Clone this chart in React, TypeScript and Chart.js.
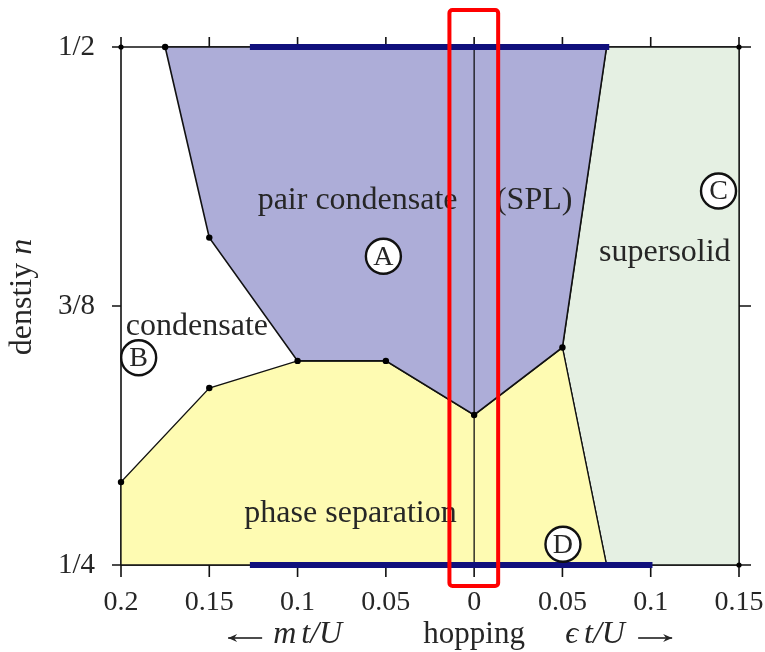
import React, { useEffect, useRef } from 'react';
import { Chart, registerables } from 'chart.js';

Chart.register(...registerables);

// ---- axes ----
const xMin = -0.2;
const xMax = 0.15;
const yMin = 0.25;
const yMax = 0.5;
const xTicks = [-0.2, -0.15, -0.1, -0.05, 0, 0.05, 0.1, 0.15];
const xTickLabels = ['0.2', '0.15', '0.1', '0.05', '0', '0.05', '0.1', '0.15'];
const yTicks = [0.25, 0.375, 0.5];
const yTickLabels = ['1/4', '3/8', '1/2'];

// ---- phase regions ----
// pair condensate (A): upper boundary region
const pairX = [-0.175, -0.15, -0.1, -0.05, 0, 0.05, 0.075, -0.175];
const pairY = [0.5, 0.408, 0.3485, 0.3485, 0.3224, 0.355, 0.5, 0.5];
// phase separation (lower region)
const sepX = [-0.2, -0.2, -0.15, -0.1, -0.05, 0, 0.05, 0.075, -0.2];
const sepY = [0.25, 0.29, 0.3354, 0.3485, 0.3485, 0.3224, 0.355, 0.25, 0.25];
// supersolid (C)
const solidX = [0.05, 0.075, 0.15, 0.15, 0.075, 0.05];
const solidY = [0.355, 0.5, 0.5, 0.25, 0.25, 0.355];
// computed points
const dotX = [-0.175, -0.15, -0.1, -0.05, 0, 0.05, -0.15, -0.2];
const dotY = [0.5, 0.408, 0.3485, 0.3485, 0.3224, 0.355, 0.3354, 0.29];
const cornerX = [-0.2, 0.15, 0.15];
const cornerY = [0.5, 0.5, 0.25];
// thick blue segments on the n = 1/2 and n = 1/4 lines
const blueTopX = [-0.127, 0.0765];
const blueTopY = [0.5, 0.5];
const blueBotX = [-0.127, 0.101];
const blueBotY = [0.25, 0.25];
// zero-hopping line
const zeroX = [0, 0];
const zeroY = [0.25, 0.5];

// ---- annotations ----
const regionTexts = ['pair condensate', '(SPL)', 'supersolid', 'condensate', 'phase separation'];
const regionTextX = [-0.066, 0.034, 0.108, -0.157, -0.07];
const regionTextY = [0.426, 0.426, 0.4006, 0.365, 0.275];
const circleLetters = ['A', 'B', 'C', 'D'];
const circleX = [-0.0514, -0.19, 0.1384, 0.0503];
const circleY = [0.399, 0.35, 0.4305, 0.26];
// highlight box around zero hopping
const boxX = [-0.014, 0.0136];
const boxY = [0.2399, 0.5179];

const pts = (xs: number[], ys: number[]) => xs.map((x, i) => ({ x, y: ys[i] }));

const SERIF = '"Liberation Serif", "DejaVu Serif", serif';
const TEXT = '#262626';

const framePlugin = {
  id: 'frame',
  beforeDatasetsDraw(chart: any) {
    const { ctx, scales } = chart;
    const x = scales.x;
    const y = scales.y;
    const L = x.getPixelForValue(xMin);
    const R = x.getPixelForValue(xMax);
    const T = y.getPixelForValue(yMax);
    const B = y.getPixelForValue(yMin);
    ctx.save();
    ctx.strokeStyle = '#111';
    ctx.lineWidth = 1.6;
    ctx.beginPath();
    ctx.moveTo(L - 9, T); ctx.lineTo(R + 12, T);
    ctx.moveTo(L - 9, B); ctx.lineTo(R + 12, B);
    ctx.moveTo(L, T); ctx.lineTo(L, B);
    ctx.moveTo(R, T); ctx.lineTo(R, B);
    xTicks.forEach((v) => {
      const px = x.getPixelForValue(v);
      ctx.moveTo(px, T - 10); ctx.lineTo(px, T);
      ctx.moveTo(px, B); ctx.lineTo(px, B + 12);
    });
    yTicks.forEach((v) => {
      const py = y.getPixelForValue(v);
      ctx.moveTo(L - 9, py); ctx.lineTo(L, py);
      ctx.moveTo(R, py); ctx.lineTo(R + 12, py);
    });
    ctx.stroke();
    ctx.restore();
  },
  afterDatasetsDraw(chart: any) {
    const { ctx, scales } = chart;
    const x = scales.x;
    const y = scales.y;
    ctx.save();
    // region names
    ctx.fillStyle = TEXT;
    ctx.font = `32px ${SERIF}`;
    ctx.textAlign = 'center';
    ctx.textBaseline = 'middle';
    regionTexts.forEach((t, i) => {
      ctx.fillText(t, x.getPixelForValue(regionTextX[i]), y.getPixelForValue(regionTextY[i]));
    });
    // circled letters
    circleLetters.forEach((t, i) => {
      const cx = x.getPixelForValue(circleX[i]);
      const cy = y.getPixelForValue(circleY[i]);
      ctx.beginPath();
      ctx.arc(cx, cy, 17.5, 0, Math.PI * 2);
      ctx.fillStyle = '#ffffff';
      ctx.fill();
      ctx.lineWidth = 2.4;
      ctx.strokeStyle = '#111';
      ctx.stroke();
      ctx.fillStyle = TEXT;
      ctx.font = `28px ${SERIF}`;
      ctx.fillText(t, cx, cy + 1);
    });
    // highlight box
    const bx0 = x.getPixelForValue(boxX[0]);
    const bx1 = x.getPixelForValue(boxX[1]);
    const by0 = y.getPixelForValue(boxY[1]);
    const by1 = y.getPixelForValue(boxY[0]);
    ctx.beginPath();
    (ctx as any).roundRect(bx0, by0, bx1 - bx0, by1 - by0, 3);
    ctx.lineWidth = 4;
    ctx.strokeStyle = '#ff0000';
    ctx.stroke();
    ctx.restore();
  },
  afterDraw(chart: any) {
    const { ctx, scales } = chart;
    const x = scales.x;
    const c0 = x.getPixelForValue(0);
    const base = 643;
    ctx.save();
    ctx.fillStyle = TEXT;
    ctx.strokeStyle = '#111';
    ctx.textBaseline = 'alphabetic';
    const arrow = (x0: number, x1: number, yy: number, dir: number) => {
      ctx.beginPath();
      ctx.lineWidth = 1.6;
      ctx.moveTo(x0, yy); ctx.lineTo(x1, yy);
      ctx.stroke();
      const tip = dir < 0 ? x0 : x1;
      ctx.beginPath();
      ctx.moveTo(tip, yy);
      ctx.lineTo(tip - dir * 9, yy - 4);
      ctx.lineTo(tip - dir * 6, yy);
      ctx.lineTo(tip - dir * 9, yy + 4);
      ctx.closePath();
      ctx.fill();
    };
    // left: <- m t/U
    arrow(c0 - 246, c0 - 212, 638, -1);
    ctx.textAlign = 'left';
    ctx.font = `italic 32px ${SERIF}`;
    ctx.fillText('m', c0 - 201, base);
    const mw = ctx.measureText('m').width;
    ctx.fillText('t/U', c0 - 201 + mw + 5, base);
    ctx.textAlign = 'center';
    ctx.font = `31px ${SERIF}`;
    ctx.fillText('hopping', c0, base);
    // right: eps t/U ->
    ctx.textAlign = 'left';
    ctx.font = `italic 32px ${SERIF}`;
    ctx.fillText('\u03F5', c0 + 91, base);
    const ew = ctx.measureText('\u03F5').width;
    ctx.fillText('t/U', c0 + 91 + ew + 6, base);
    arrow(c0 + 164, c0 + 198, 638, 1);
    // y title: denstiy n
    ctx.translate(31, 297);
    ctx.rotate(-Math.PI / 2);
    ctx.font = `32px ${SERIF}`;
    const w1 = ctx.measureText('denstiy ').width;
    ctx.font = `italic 32px ${SERIF}`;
    const w2 = ctx.measureText('n').width;
    const start = -(w1 + w2) / 2;
    ctx.textAlign = 'left';
    ctx.font = `32px ${SERIF}`;
    ctx.fillText('denstiy ', start, 0);
    ctx.font = `italic 32px ${SERIF}`;
    ctx.fillText('n', start + w1, 0);
    ctx.restore();
  },
};

export default function App() {
  const ref = useRef<HTMLCanvasElement | null>(null);
  useEffect(() => {
    document.body.style.margin = '0';
    const canvas = ref.current;
    if (!canvas) return;
    const border = '#111';
    const chart = new Chart(canvas, {
      type: 'scatter',
      data: {
        datasets: [
          {
            data: pts(solidX, solidY), showLine: true, fill: 'shape',
            backgroundColor: '#e5f0e3', borderColor: border, borderWidth: 1.3,
            pointRadius: 0, order: 10, clip: false,
          } as any,
          {
            data: pts(sepX, sepY), showLine: true, fill: 'shape',
            backgroundColor: '#fefbb2', borderColor: border, borderWidth: 1.3,
            pointRadius: 0, order: 9, clip: false,
          } as any,
          {
            data: pts(pairX, pairY), showLine: true, fill: 'shape',
            backgroundColor: '#adadd8', borderColor: border, borderWidth: 1.6,
            pointRadius: 0, order: 8, clip: false,
          } as any,
          {
            data: pts(zeroX, zeroY), showLine: true, borderColor: border, borderWidth: 1.3,
            pointRadius: 0, order: 7, clip: false,
          } as any,
          {
            data: pts(blueTopX, blueTopY), showLine: true, borderColor: '#10107c', borderWidth: 6,
            borderCapStyle: 'butt', pointRadius: 0, order: 6, clip: false,
          } as any,
          {
            data: pts(blueBotX, blueBotY), showLine: true, borderColor: '#10107c', borderWidth: 6,
            borderCapStyle: 'butt', pointRadius: 0, order: 5, clip: false,
          } as any,
          {
            data: pts(dotX, dotY), showLine: false, pointRadius: 3.2,
            pointBackgroundColor: '#000', pointBorderWidth: 0, order: 4, clip: false,
          } as any,
          {
            data: pts(cornerX, cornerY), showLine: false, pointRadius: 2.6,
            pointBackgroundColor: '#000', pointBorderWidth: 0, order: 3, clip: false,
          } as any,
        ],
      },
      options: {
        animation: false,
        responsive: false,
        devicePixelRatio: 1,
        events: [],
        layout: { padding: { top: 47, right: 26, left: 0, bottom: 0 } },
        plugins: { legend: { display: false }, tooltip: { enabled: false } },
        scales: {
          x: {
            type: 'linear', min: xMin, max: xMax,
            grid: { display: false, drawTicks: false },
            border: { display: false },
            afterBuildTicks: (s: any) => { s.ticks = xTicks.map((v) => ({ value: v })); },
            afterFit: (s: any) => { s.height = 87; s.paddingLeft = 0; s.paddingRight = 0; },
            ticks: {
              padding: 21, color: TEXT, maxRotation: 0, autoSkip: false,
              font: { family: SERIF, size: 28 },
              callback: (_v: any, i: number) => xTickLabels[i],
            },
          },
          y: {
            type: 'linear', min: yMin, max: yMax,
            grid: { display: false, drawTicks: false },
            border: { display: false },
            afterBuildTicks: (s: any) => { s.ticks = yTicks.map((v) => ({ value: v })); },
            afterFit: (s: any) => { s.width = 121; s.paddingTop = 0; s.paddingBottom = 0; },
            ticks: {
              padding: 26, color: TEXT, autoSkip: false,
              font: { family: SERIF, size: 29 },
              callback: (_v: any, i: number) => yTickLabels[i],
            },
          },
        },
      } as any,
      plugins: [framePlugin],
    });
    return () => chart.destroy();
  }, []);
  return (
    <div style={{ width: 765, height: 652, background: '#fff' }}>
      <canvas ref={ref} width={765} height={652} style={{ display: 'block' }} />
    </div>
  );
}
